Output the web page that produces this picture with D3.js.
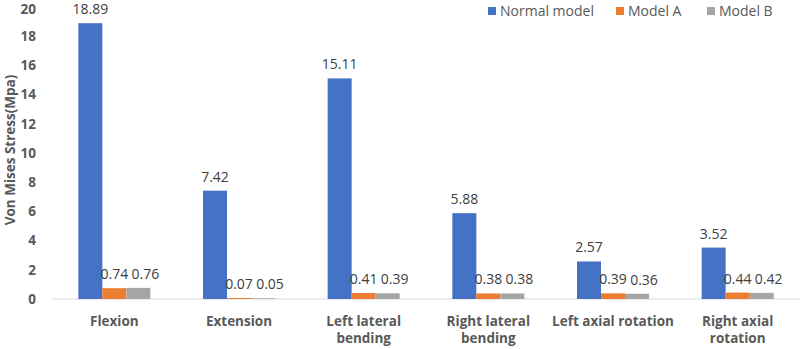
<!DOCTYPE html>
<html>
<head>
<meta charset="utf-8">
<script src="https://cdn.jsdelivr.net/npm/d3@7"></script>
<style>
  body { margin: 0; background: #fff; }
  text { font-family: "Open Sans", sans-serif; }
</style>
</head>
<body>
<script>
var categories = [["Flexion"], ["Extension"], ["Left lateral", "bending"], ["Right lateral", "bending"], ["Left axial rotation"], ["Right axial", "rotation"]];
var seriesNames = ["Normal model", "Model A", "Model B"];
var normalModel = [18.89, 7.42, 15.11, 5.88, 2.57, 3.52];
var modelA = [0.74, 0.07, 0.41, 0.38, 0.39, 0.44];
var modelB = [0.76, 0.05, 0.39, 0.38, 0.36, 0.42];
var yTicks = [0, 2, 4, 6, 8, 10, 12, 14, 16, 18, 20];
var colors = ["#4472C4", "#ED7D31", "#A5A5A5"];

var width = 800, height = 349;
var svg = d3.select("body").append("svg")
    .attr("width", width)
    .attr("height", height);

var catKeys = categories.map(function (c) { return c.join(" "); });
var data = catKeys.map(function (k, i) {
    return { cat: k, lines: categories[i], values: [normalModel[i], modelA[i], modelB[i]] };
});

var x = d3.scaleBand().domain(catKeys).range([52, 800]).paddingInner(0).paddingOuter(0);
var xs = d3.scaleBand().domain(seriesNames).range([0, 72]);
var y = d3.scaleLinear().domain([0, 20]).range([299, 7]);

// y axis ticks (top label kept inside the frame)
svg.append("g").selectAll("text")
    .data(yTicks).enter().append("text")
    .attr("x", 36)
    .attr("y", function (d) { return Math.max(y(d), 9); })
    .attr("dy", "0.36em")
    .attr("text-anchor", "end")
    .attr("font-size", 13.5)
    .attr("font-weight", "bold")
    .attr("fill", "#595959")
    .text(function (d) { return d; });

// y axis title
svg.append("text")
    .attr("transform", "translate(10," + 150 + ") rotate(-90)")
    .attr("text-anchor", "middle")
    .attr("dy", "0.35em")
    .attr("font-size", 13.5)
    .attr("font-weight", "bold")
    .attr("fill", "#595959")
    .text("Von Mises Stress(Mpa)");

// baseline
svg.append("line")
    .attr("x1", 52).attr("x2", 800)
    .attr("y1", y(0)).attr("y2", y(0))
    .attr("stroke", "#D9D9D9");

var groups = svg.append("g").selectAll("g")
    .data(data).enter().append("g")
    .attr("transform", function (d) { return "translate(" + (x(d.cat) + (x.bandwidth() - 72) / 2) + ",0)"; });

groups.selectAll("rect")
    .data(function (d) { return d.values.map(function (v, j) { return { s: seriesNames[j], v: v, j: j }; }); })
    .enter().append("rect")
    .attr("x", function (d) { return xs(d.s); })
    .attr("width", xs.bandwidth())
    .attr("y", function (d) { return y(d.v); })
    .attr("height", function (d) { return y(0) - y(d.v); })
    .attr("fill", function (d) { return colors[d.j]; });

groups.selectAll("text.val")
    .data(function (d) { return d.values.map(function (v, j) { return { s: seriesNames[j], v: v, j: j }; }); })
    .enter().append("text")
    .attr("class", "val")
    .attr("x", function (d) { return xs(d.s) + xs.bandwidth() / 2 + (d.j === 2 ? 7 : 0); })
    .attr("y", function (d) { return y(d.v) - 9; })
    .attr("text-anchor", "middle")
    .attr("font-size", 14)
    .attr("fill", "#404040")
    .text(function (d) { return d.v.toFixed(2); });

// category labels
var catLabels = svg.append("g").selectAll("text")
    .data(data).enter().append("text")
    .attr("x", function (d) { return x(d.cat) + x.bandwidth() / 2; })
    .attr("y", 326)
    .attr("text-anchor", "middle")
    .attr("font-size", 13.5)
    .attr("font-weight", "bold")
    .attr("fill", "#595959");
catLabels.selectAll("tspan")
    .data(function (d) { return d.lines; })
    .enter().append("tspan")
    .attr("x", function () { var p = d3.select(this.parentNode).datum(); return x(p.cat) + x.bandwidth() / 2; })
    .attr("dy", function (d, i) { return i === 0 ? 0 : 17; })
    .text(function (d) { return d; });

// legend
var legendX = [488, 616, 707];
var legend = svg.append("g").selectAll("g")
    .data(seriesNames).enter().append("g")
    .attr("transform", function (d, i) { return "translate(" + legendX[i] + ",11)"; });
legend.append("rect")
    .attr("x", 0).attr("y", -4)
    .attr("width", 8).attr("height", 8)
    .attr("fill", function (d, i) { return colors[i]; });
legend.append("text")
    .attr("x", 12).attr("y", 0)
    .attr("dy", "0.36em")
    .attr("font-size", 14)
    .attr("fill", "#595959")
    .text(function (d) { return d; });
</script>
</body>
</html>
